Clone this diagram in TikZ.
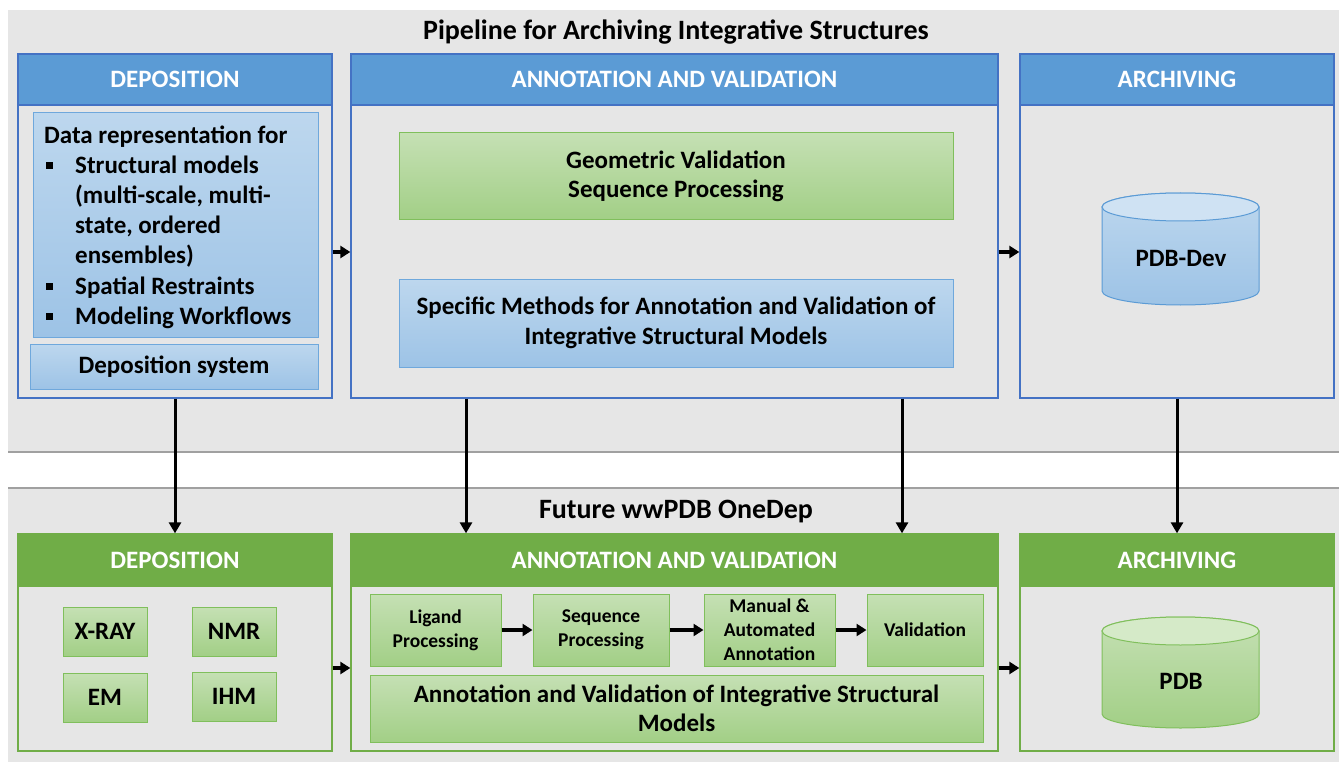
\documentclass[tikz,border=0pt]{standalone}
\usepackage{fontspec}
\setmainfont{Carlito}
\usetikzlibrary{arrows.meta,calc}
\definecolor{bgG}{HTML}{E6E6E6}
\definecolor{lineG}{HTML}{A0A0A0}
\definecolor{hBlue}{HTML}{5B9BD5}
\definecolor{bBlue}{HTML}{4472C4}
\definecolor{iBlueT}{HTML}{BDD7EE}
\definecolor{iBlueB}{HTML}{9DC3E6}
\definecolor{iBlueD}{HTML}{6FA8DC}
\definecolor{cBlueTop}{HTML}{CFE2F3}
\definecolor{hGreen}{HTML}{70AD47}
\definecolor{iGreenT}{HTML}{C5E0B4}
\definecolor{iGreenB}{HTML}{A2CF86}
\definecolor{iGreenD}{HTML}{80BF5C}
\definecolor{cGreenTop}{HTML}{D5EAC8}
\newcommand\fz[2]{\fontsize{#1}{#2}\selectfont\bfseries}
\newcommand\sqb{\makebox[31pt][l]{\hspace{2pt}\rule[4.5pt]{7pt}{7pt}}}
\newcommand\ind{\hspace*{31pt}}
\tikzset{
  outerB/.style={draw=bBlue, line width=1.3pt, fill=bgG, minimum width=314pt, minimum height=344pt, inner sep=0pt},
  outerG/.style={draw=hGreen, line width=1.3pt, fill=bgG, minimum width=314pt, minimum height=217pt, inner sep=0pt},
  headB/.style={draw=bBlue, line width=1.3pt, fill=hBlue, text=white, font=\fz{25}{30}, minimum width=314pt, minimum height=51pt, inner sep=0pt, text depth=0pt},
  headG/.style={draw=hGreen, line width=1.3pt, fill=hGreen, text=white, font=\fz{25}{30}, minimum width=314pt, minimum height=52pt, inner sep=0pt, text depth=0pt},
  innerB/.style={draw=iBlueD, line width=1pt, top color=iBlueT, bottom color=iBlueB, inner sep=0pt, align=center, font=\fz{25}{29.5}},
  innerG/.style={draw=iGreenD, line width=1pt, top color=iGreenT, bottom color=iGreenB, inner sep=0pt, align=center, font=\fz{25}{29.5}},
  smallG/.style={innerG, font=\fz{19.5}{24}, minimum height=72pt},
  methodG/.style={innerG, minimum width=84pt, minimum height=49pt},
  title/.style={font=\fz{28}{33}, inner sep=0pt},
  arr/.style={line width=3pt, -{Triangle[length=11pt,width=12pt]}},
  harr/.style={line width=4pt, -{Triangle[length=10pt,width=12pt]}},
  cylB/.style={draw=hBlue, line width=1pt, top color=iBlueT, bottom color=iBlueB},
  cylBt/.style={draw=hBlue, line width=1pt, fill=cBlueTop},
  cylG/.style={draw=iGreenD, line width=1pt, top color=iGreenT, bottom color=iGreenB},
  cylGt/.style={draw=iGreenD, line width=1pt, fill=cGreenTop},
  cyltext/.style={font=\fz{25}{30}, inner sep=0pt}
}
\begin{document}
\begin{tikzpicture}[x=1pt,y=-1pt]
\useasboundingbox[fill=white] (0,0) rectangle (1339,762);
% panels
\fill[bgG] (8,10) rectangle (1339,452);
\fill[bgG] (8,488) rectangle (1339,762);
\draw[lineG, line width=1.5pt] (8,452) -- (1339,452);
\draw[lineG, line width=1.5pt] (8,488) -- (1339,488);
\node[title] (t1) at (676,32) {Pipeline for Archiving Integrative Structures};
\node[title] (t2) at (676,512) {Future wwPDB OneDep};
% ---------- top row
\node[outerB] (depT) at (175,226) {};
\node[headB] (depTh) at (175,79.5) {DEPOSITION};
\node[innerB, minimum width=285pt, minimum height=224pt] (data) at (175.5,225) {};
\node[anchor=west, align=left, font=\fz{25}{30.2}, inner sep=0pt] (datatxt) at (44,227)
 {Data representation for\\ \sqb Structural models\\ \ind(multi-scale, multi-\\ \ind state, ordered\\ \ind ensembles)\\ \sqb Spatial Restraints\\ \sqb Modeling Workflows};
\node[innerB, minimum width=288pt, minimum height=45pt] (depsys) at (174,366.5) {Deposition system};

\node[outerB, minimum width=647pt] (annT) at (674.5,226) {};
\node[headB, minimum width=647pt] (annTh) at (674.5,79.5) {ANNOTATION AND VALIDATION};
\node[innerG, minimum width=554pt, minimum height=87pt] (geo) at (676,176.5) {Geometric Validation\\Sequence Processing};
\node[innerB, minimum width=554pt, minimum height=88pt] (spec) at (676,323) {Specific Methods for Annotation and Validation of\\Integrative Structural Models};

\node[outerB] (arcT) at (1177,226) {};
\node[headB] (arcTh) at (1177,79.5) {ARCHIVING};
\path[cylB] (1102,207) -- (1102,291) arc[start angle=180, end angle=0, x radius=78.5, y radius=14] -- (1259,207) arc[start angle=0, end angle=-180, x radius=78.5, y radius=14] -- cycle;
\draw[cylBt] (1180.5,207) ellipse[x radius=78.5, y radius=14];
\node[cyltext] (pdbdev) at (1181,258) {PDB-Dev};

% ---------- bottom row
\node[outerG] (depB) at (175,642.5) {};
\node[headG] (depBh) at (175,560) {DEPOSITION};
\node[methodG] (xray) at (105,631.5) {X-RAY};
\node[methodG] (nmr) at (234,631.5) {NMR};
\node[methodG] (em) at (105,697.5) {EM};
\node[methodG] (ihm) at (234,696.5) {IHM};

\node[outerG, minimum width=647pt] (annB) at (674.5,642.5) {};
\node[headG, minimum width=647pt] (annBh) at (674.5,560) {ANNOTATION AND VALIDATION};
\node[smallG, minimum width=131pt] (lig) at (435.5,630) {Ligand\\Processing};
\node[smallG, minimum width=136pt] (seq) at (601,630) {Sequence\\Processing};
\node[smallG, minimum width=131pt] (man) at (769.5,630) {Manual \&\\Automated\\Annotation};
\node[smallG, minimum width=116pt] (val) at (925,630) {Validation};
\node[innerG, minimum width=613pt, minimum height=67pt] (avis) at (676.5,708.5) {Annotation and Validation of Integrative Structural\\Models};

\node[outerG] (arcB) at (1177,642.5) {};
\node[headG] (arcBh) at (1177,560) {ARCHIVING};
\path[cylG] (1102,631) -- (1102,714) arc[start angle=180, end angle=0, x radius=78.5, y radius=14] -- (1259,631) arc[start angle=0, end angle=-180, x radius=78.5, y radius=14] -- cycle;
\draw[cylGt] (1180.5,631) ellipse[x radius=78.5, y radius=14];
\node[cyltext] (pdb) at (1181,681) {PDB};

% ---------- connectors
\coordinate (yT) at (0,252);
\coordinate (yB) at (0,668);
\coordinate (xA) at (466,0);
\coordinate (xB) at (902,0);
\draw[harr] (depT.east |- yT) -- (annT.west |- yT);
\draw[harr] (annT.east |- yT) -- (arcT.west |- yT);
\draw[harr] (depB.east |- yB) -- (annB.west |- yB);
\draw[harr] (annB.east |- yB) -- (arcB.west |- yB);
\draw[arr] (depT.south) -- (depBh.north);
\draw[arr] (annT.south -| xA) -- (annBh.north -| xA);
\draw[arr] (annT.south -| xB) -- (annBh.north -| xB);
\draw[arr] (arcT.south) -- (arcBh.north);
\draw[harr] (lig.east) -- (seq.west);
\draw[harr] (seq.east) -- (man.west);
\draw[harr] (man.east) -- (val.west);
\end{tikzpicture}
\end{document}
